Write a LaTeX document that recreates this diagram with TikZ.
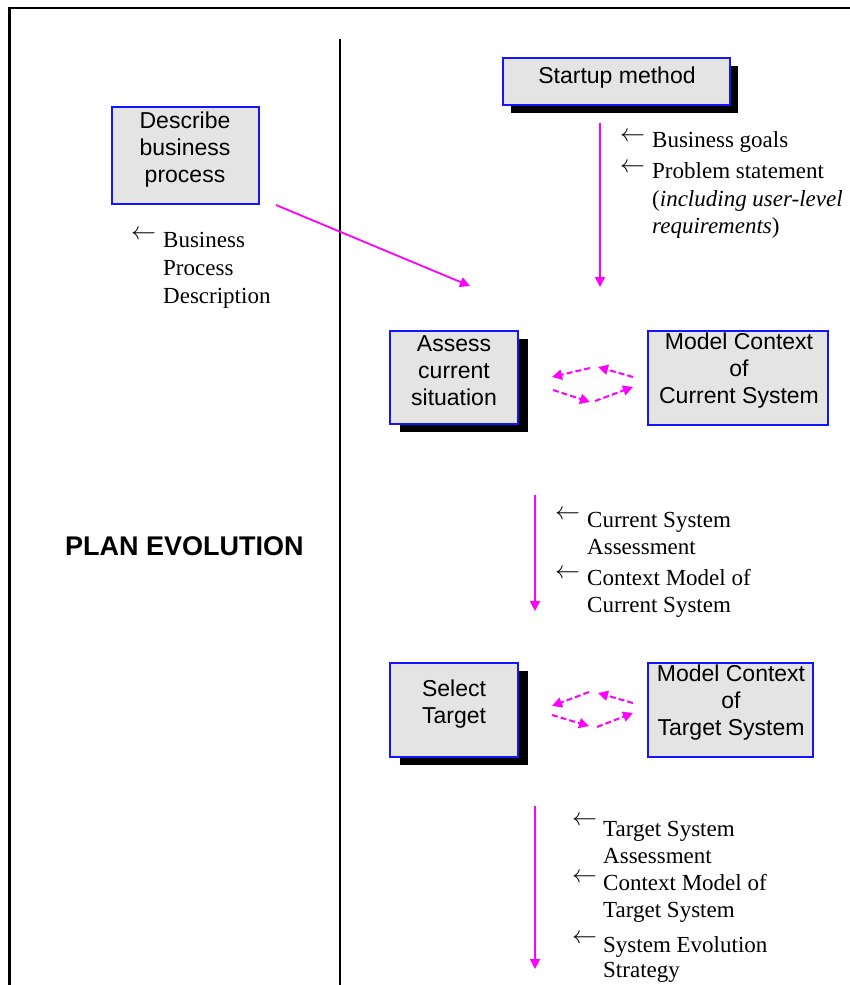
\documentclass[tikz,border=0pt]{standalone}
\usepackage{fontspec}
\setmainfont{Liberation Serif}
\setsansfont{Liberation Sans}
\usetikzlibrary{arrows.meta,shadows}

\definecolor{boxfill}{RGB}{228,228,228}
\definecolor{boxline}{RGB}{20,20,255}
\definecolor{flow}{RGB}{255,0,255}

\tikzset{
  procbox/.style={draw=boxline, line width=1.8pt, fill=boxfill, inner sep=0pt},
  shadowed/.style={drop shadow={shadow xshift=#1, shadow yshift=-8pt, fill=black, opacity=1}},
  boxtext/.style={font=\sffamily\fontsize{23}{27}\selectfont, align=center, inner sep=0pt},
  note/.style={font=\fontsize{23}{27}\selectfont, anchor=base west, inner sep=0pt},
  inarrow/.style={font=\fontsize{24}{27}\selectfont, anchor=base west, inner sep=0pt},
  flowline/.style={draw=flow, line width=1.8pt, -{Triangle[length=10pt,width=10pt]}},
  flowdash/.style={draw=flow, line width=2pt, dash pattern=on 6pt off 3pt, -{Triangle[length=10pt,width=10pt]}},
}

\begin{document}
\begin{tikzpicture}[x=1pt,y=-1pt]
\useasboundingbox (0,0) rectangle (850,985);

% frame and column divider
\draw[line width=2.2pt] (852,8) -- (9.5,8) -- (9.5,987);
\draw[line width=1.8pt] (340,39) -- (340,987);

% heading
\node[font=\sffamily\bfseries\fontsize{27}{30}\selectfont, anchor=base west, inner sep=0pt] (plan) at (65,555) {PLAN EVOLUTION};

% process boxes
\node[procbox, shadowed=8pt, minimum width=227pt, minimum height=47pt] (startup) at (616.5,81.5) {};
\node[boxtext] (startupT) at (617,78) {Startup method};

\node[procbox, minimum width=147pt, minimum height=97pt] (describe) at (185.5,155.5) {};
\node[boxtext] (describeT) at (185,150) {Describe\\business\\process};

\node[procbox, shadowed=10pt, minimum width=128pt, minimum height=93pt] (assess) at (454,377.5) {};
\node[boxtext] (assessT) at (454,371) {Assess\\current\\situation};

\node[procbox, minimum width=180pt, minimum height=94pt] (modelcur) at (738,378) {};
\node[boxtext] (modelcurT) at (739,371) {Model Context\\of\\Current System};

\node[procbox, shadowed=10pt, minimum width=128pt, minimum height=94pt] (select) at (454,710) {};
\node[boxtext] (selectT) at (454,704) {Select\\Target};

\node[procbox, minimum width=165pt, minimum height=94pt] (modeltgt) at (730.5,710) {};
\node[boxtext] (modeltgtT) at (731,703) {Model Context\\of\\Target System};

% products entering from the startup method
\node[inarrow] (a1) at (620,141) {$\leftarrow$};
\node[note] (n1) at (652,147) {Business goals};
\node[inarrow] (a2) at (620,172) {$\leftarrow$};
\node[note] (n2) at (652,178) {Problem statement};
\node[note] (n3) at (652,206) {(\textit{including user-level}};
\node[note] (n4) at (652,233) {\textit{requirements})};

% business process description
\node[inarrow] (a3) at (131,239) {$\leftarrow$};
\node[note] (n5) at (163,247) {Business};
\node[note] (n6) at (163,275) {Process};
\node[note] (n7) at (163,303) {Description};

% current system products
\node[inarrow] (a4) at (555,519) {$\leftarrow$};
\node[note] (n8) at (587,527) {Current System};
\node[note] (n9) at (587,554) {Assessment};
\node[inarrow] (a5) at (555,578) {$\leftarrow$};
\node[note] (n10) at (587,585) {Context Model of};
\node[note] (n11) at (587,612) {Current System};

% target system products
\node[inarrow] (a6) at (572,825) {$\leftarrow$};
\node[note] (n12) at (603,836) {Target System};
\node[note] (n13) at (603,863) {Assessment};
\node[inarrow] (a7) at (572,882) {$\leftarrow$};
\node[note] (n14) at (603,890) {Context Model of};
\node[note] (n15) at (603,917) {Target System};
\node[inarrow] (a8) at (572,943) {$\leftarrow$};
\node[note] (n16) at (603,952) {System Evolution};
\node[note] (n17) at (603,977) {Strategy};

% flow endpoints
\coordinate (s1) at (600,123);  \coordinate (e1) at (600,287);
\coordinate (s2) at (276,205);  \coordinate (e2) at (470,286);
\coordinate (s3) at (535,495);  \coordinate (e3) at (535,611);
\coordinate (s4) at (535,806);  \coordinate (e4) at (535,969);

\draw[flowline] (s1) -- (e1);
\draw[flowline] (s2) -- (e2);
\draw[flowline] (s3) -- (e3);
\draw[flowline] (s4) -- (e4);

% iteration loop: assess <-> model of current system
\coordinate (c1) at (590,368); \coordinate (c2) at (552,377);
\coordinate (c3) at (633,377); \coordinate (c4) at (598,367);
\coordinate (c5) at (553,390); \coordinate (c6) at (590,402);
\coordinate (c7) at (595,401); \coordinate (c8) at (633,387);
\draw[flowdash] (c1) -- (c2);
\draw[flowdash] (c3) -- (c4);
\draw[flowdash] (c5) -- (c6);
\draw[flowdash] (c7) -- (c8);

% iteration loop: select <-> model of target system
\coordinate (t1) at (589,692); \coordinate (t2) at (552,706);
\coordinate (t3) at (633,703); \coordinate (t4) at (598,693);
\coordinate (t5) at (552,715); \coordinate (t6) at (589,726);
\coordinate (t7) at (597,727); \coordinate (t8) at (633,713);
\draw[flowdash] (t1) -- (t2);
\draw[flowdash] (t3) -- (t4);
\draw[flowdash] (t5) -- (t6);
\draw[flowdash] (t7) -- (t8);
\end{tikzpicture}
\end{document}
